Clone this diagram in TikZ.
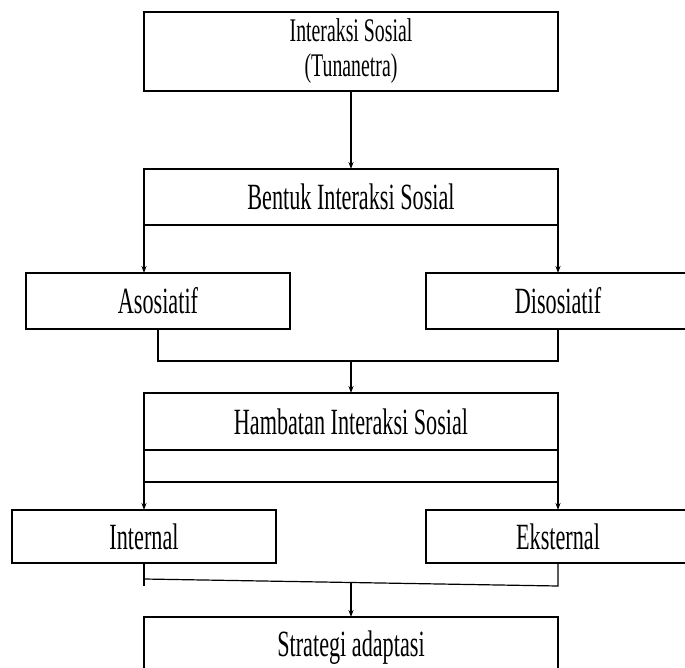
\documentclass[tikz,border=0pt]{standalone}
\usepackage{fontspec}
\setmainfont[FakeStretch=0.6]{Liberation Serif}
\usetikzlibrary{arrows.meta, positioning, calc}

\begin{document}
\begin{tikzpicture}[
    box/.style={rectangle, draw=black, line width=1.5pt, inner sep=0pt, outer sep=0pt,
                minimum width=414pt, minimum height=56pt, align=center,
                font=\fontsize{37}{40}\selectfont},
    sidebox/.style={box, minimum width=264pt},
    link/.style={line width=1.2pt},
    arr/.style={link, -{Stealth[length=7pt, width=5pt]}}
]
    \useasboundingbox (0pt,0pt) rectangle (685pt,-668pt);
    \clip (0pt,0pt) rectangle (685pt,-668pt);

    % Main column
    \node[box, minimum height=79pt, font=\fontsize{33}{35}\selectfont] (soc) at (351pt,-51.5pt)
        {Interaksi Sosial\\(Tunanetra)};
    \node[box, below=78pt of soc] (bentuk) {Bentuk Interaksi Sosial};
    \node[box, minimum height=57pt, below=168pt of bentuk] (hamb) {Hambatan Interaksi Sosial};
    \node[box, minimum height=32pt, below=0pt of hamb] (hband) {};
    \node[box, minimum height=62pt, below=135pt of hband] (strat) {Strategi adaptasi};

    % Forms of interaction
    \node[sidebox, below=48pt of bentuk.south west, xshift=14pt] (asos) {Asosiatif};
    \node[sidebox, below=48pt of bentuk.south east] (disos) {Disosiatif};

    % Barriers
    \node[sidebox, minimum height=53pt, below=28pt of hband.south west] (intl) {Internal};
    \node[sidebox, minimum height=53pt, below=28pt of hband.south east] (ekst) {Eksternal};

    % Connectors
    \draw[arr] (soc) -- (bentuk);
    \draw[arr] (bentuk.south west) -- (bentuk.south west |- asos.north);
    \draw[arr] (bentuk.south east) -- (bentuk.south east |- disos.north);
    \draw[link] (asos.south) -- ++(0,-32pt) coordinate (ad) -| (disos.south);
    \draw[arr] (ad -| hamb.north) -- (hamb.north);

    \draw[arr] (hband.south west) -- (intl.north);
    \draw[arr] (hband.south east) -- (ekst.north);
    \draw[link] (intl.south) -- ++(0,-23pt);
    \draw[link] ([yshift=-16pt]intl.south) coordinate (il)
        -- ([yshift=-23pt]ekst.south) coordinate (er) -- (ekst.south);
    \draw[arr] ($(il)!0.5!(er)$) -- (strat.north);
\end{tikzpicture}
\end{document}
